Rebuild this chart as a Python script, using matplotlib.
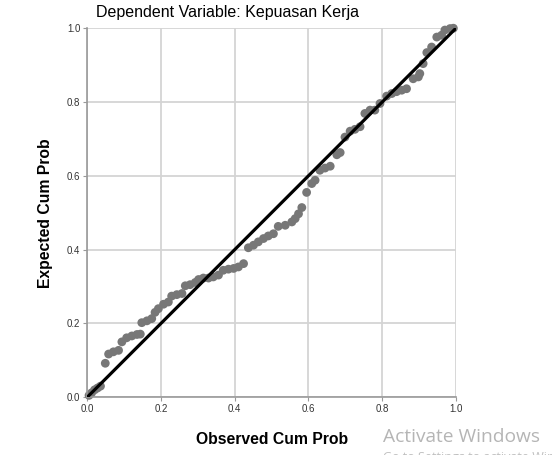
import numpy as np
import matplotlib
matplotlib.use("Agg")
import matplotlib.pyplot as plt

# P-P plot readings (observed cum prob, expected cum prob)
observed = [0.005, 0.012, 0.020, 0.028, 0.036, 0.049, 0.058, 0.071, 0.085, 0.094,
            0.107, 0.121, 0.135, 0.144, 0.148, 0.162, 0.175, 0.184, 0.193, 0.207,
            0.220, 0.229, 0.243, 0.257, 0.266, 0.279, 0.293, 0.302, 0.315, 0.329,
            0.342, 0.356, 0.369, 0.383, 0.397, 0.410, 0.424, 0.437, 0.451, 0.464,
            0.478, 0.491, 0.505, 0.518, 0.537, 0.555, 0.564, 0.573, 0.582, 0.595,
            0.609, 0.618, 0.631, 0.645, 0.659, 0.677, 0.686, 0.699, 0.713, 0.726,
            0.740, 0.753, 0.767, 0.780, 0.794, 0.812, 0.826, 0.839, 0.853, 0.866,
            0.884, 0.898, 0.902, 0.911, 0.921, 0.934, 0.948, 0.961, 0.970, 0.984,
            0.993]
expected = [0.005, 0.012, 0.020, 0.025, 0.030, 0.092, 0.117, 0.123, 0.127, 0.150,
            0.161, 0.166, 0.170, 0.171, 0.202, 0.207, 0.213, 0.230, 0.240, 0.252,
            0.258, 0.274, 0.278, 0.281, 0.302, 0.305, 0.311, 0.319, 0.323, 0.323,
            0.326, 0.331, 0.344, 0.347, 0.349, 0.353, 0.362, 0.405, 0.412, 0.421,
            0.430, 0.437, 0.443, 0.463, 0.466, 0.475, 0.484, 0.497, 0.514, 0.555,
            0.579, 0.588, 0.615, 0.621, 0.626, 0.657, 0.663, 0.705, 0.721, 0.726,
            0.733, 0.769, 0.778, 0.778, 0.796, 0.816, 0.823, 0.828, 0.832, 0.836,
            0.863, 0.868, 0.877, 0.904, 0.934, 0.949, 0.976, 0.981, 0.995, 0.999,
            1.000]
ticks = [0.0, 0.2, 0.4, 0.6, 0.8, 1.0]
tick_labels = ["0.0", "0.2", "0.4", "0.6", "0.8", "1.0"]

plt.rcParams['font.family'] = ['Liberation Sans', 'DejaVu Sans']

fig = plt.figure(figsize=(5.52, 4.55), dpi=100)
ax = fig.add_axes([0.158, 0.127, 0.668, 0.811])

ax.set_xlim(0, 1)
ax.set_ylim(0, 1)
ax.grid(True, color="#d4d4d4", linewidth=1.3, zorder=0)
ax.set_axisbelow(True)

ax.scatter(observed, expected, s=40, color="#777777", edgecolors="none", zorder=2, clip_on=False)
ax.plot([0, 1], [0, 1], color="black", linewidth=2.3, zorder=3, solid_capstyle="butt")

ax.set_xticks(ticks)
ax.set_xticklabels(tick_labels)
ax.set_yticks(ticks)
ax.set_yticklabels(tick_labels)
ax.tick_params(axis="both", labelsize=7, colors="#333333", length=3, width=0.8, pad=2)
ax.tick_params(axis="both", color="#999999")

for side in ["top", "right"]:
    ax.spines[side].set_visible(False)
for side in ["left", "bottom"]:
    ax.spines[side].set_color("#999999")
    ax.spines[side].set_linewidth(1.2)

ax.set_xlabel("Observed Cum Prob", fontsize=11.3, fontweight="bold", labelpad=13)
ax.set_ylabel("Expected Cum Prob", fontsize=11.3, fontweight="bold", labelpad=10)

fig.text(0.413, 0.972, "Dependent Variable: Kepuasan Kerja", fontsize=11.5,
         ha="center", va="center")

# windows watermark
fig.text(0.693, 0.04, "Activate Windows", fontsize=13.8, color="#b5b5b5",
         family="Open Sans", ha="left", va="center")
fig.text(0.693, -0.005, "Go to Settings to activate Windows.", fontsize=9, color="#c0c0c0",
         family="Open Sans", ha="left", va="center")

fig.savefig("out.png", dpi=100)
